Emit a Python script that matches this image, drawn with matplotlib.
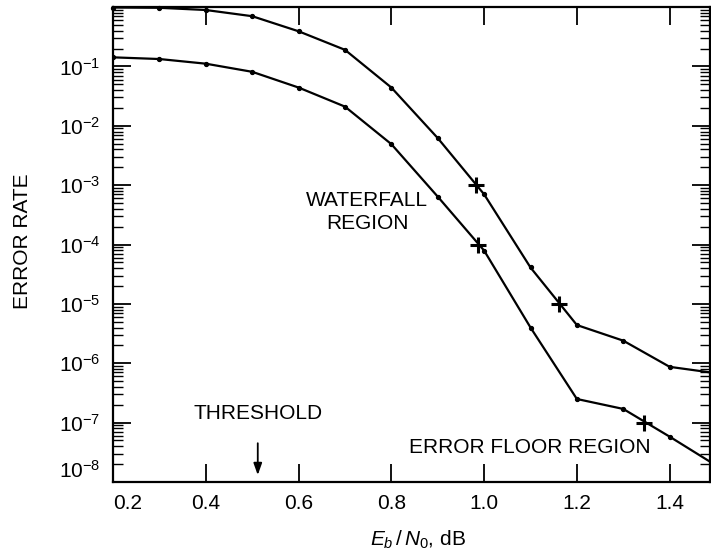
import numpy as np
import matplotlib
matplotlib.use("Agg")
import matplotlib.pyplot as plt
from matplotlib.ticker import LogLocator, NullFormatter, FixedLocator

plt.rcParams["font.family"] = ["Liberation Sans", "DejaVu Sans"]
plt.rcParams["mathtext.fontset"] = "custom"
plt.rcParams["mathtext.rm"] = "Liberation Sans"
plt.rcParams["mathtext.it"] = "Liberation Sans:italic"
plt.rcParams["mathtext.bf"] = "Liberation Sans:bold"

# Eb/N0 (dB) sample points
ebn0 = [0.2, 0.3, 0.4, 0.5, 0.6, 0.7, 0.8, 0.9, 1.0, 1.1, 1.2, 1.3, 1.4, 1.5]
# upper curve (e.g. frame error rate)
upper = [0.98, 0.97, 0.89, 0.70, 0.39, 0.19, 0.044, 0.0062, 7.0e-4, 4.1e-5,
         4.4e-6, 2.4e-6, 8.7e-7, 6.8e-7]
# lower curve (e.g. bit error rate)
lower = [0.142, 0.133, 0.111, 0.081, 0.044, 0.021, 0.0049, 6.4e-4, 7.9e-5,
         4.0e-6, 2.5e-7, 1.7e-7, 5.8e-8, 1.9e-8]

# highlighted "+" points
plus_x = [0.982, 1.161, 0.986, 1.344]
plus_y = [1e-3, 1e-5, 1e-4, 1e-7]

xticks = [0.2, 0.4, 0.6, 0.8, 1.0, 1.2, 1.4]
yticks = [1e-8, 1e-7, 1e-6, 1e-5, 1e-4, 1e-3, 1e-2, 1e-1]

fig = plt.figure(figsize=(7.11, 5.56), dpi=100)
ax = fig.add_axes([0.159, 0.1331, 0.8396, 0.8543])

ax.plot(ebn0, upper, color="k", lw=1.6, marker="o", markersize=2.8, clip_on=False, zorder=3)
ax.plot(ebn0, lower, color="k", lw=1.6, marker="o", markersize=2.8, clip_on=True, zorder=3)
ax.plot(plus_x, plus_y, linestyle="none", marker="+", markersize=12,
        markeredgewidth=2.2, color="k", zorder=4)

ax.set_yscale("log")
ax.set_xlim(0.2, 1.487)
ax.set_ylim(1e-8, 1.0)

ax.xaxis.set_major_locator(FixedLocator(xticks))
ax.set_xticklabels(["%.1f" % t for t in xticks])
ax.yaxis.set_major_locator(FixedLocator(yticks))
ax.yaxis.set_minor_locator(LogLocator(base=10, subs=np.arange(2, 10)))
ax.yaxis.set_minor_formatter(NullFormatter())

ax.tick_params(axis="both", which="major", direction="in", length=13, width=1.3,
               labelsize=15, top=True, right=True)
ax.tick_params(axis="y", which="minor", direction="in", length=7, width=1.0,
               left=True, right=True)
ax.tick_params(axis="x", which="major", pad=9)
ax.tick_params(axis="y", which="major", pad=9)

for s in ax.spines.values():
    s.set_linewidth(1.6)

# shift edge labels like in the original
xl = ax.get_xticklabels()
xl[0].set_horizontalalignment("left")
yl = ax.get_yticklabels()
yl[0].set_verticalalignment("bottom")

ax.set_ylabel("ERROR RATE", fontsize=15)
ax.yaxis.set_label_coords(-0.136, 0.507)
ax.set_xlabel(r"$E_b\,/\,N_0$, dB", fontsize=15)
ax.xaxis.set_label_coords(0.511, -0.099)

ax.text(0.748, 10**-3.45, "WATERFALL\nREGION", ha="center", va="center", fontsize=15,
        linespacing=1.3)
ax.text(0.512, 10**-6.84, "THRESHOLD", ha="center", va="center", fontsize=15)
ax.annotate("", xy=(0.512, 10**-7.93), xytext=(0.512, 10**-7.3),
            arrowprops=dict(arrowstyle="-|>,head_width=0.25,head_length=0.7", color="k", lw=1.3))
ax.text(1.099, 10**-7.42, "ERROR FLOOR REGION", ha="center", va="center", fontsize=15)

fig.savefig("out.png", dpi=100)
